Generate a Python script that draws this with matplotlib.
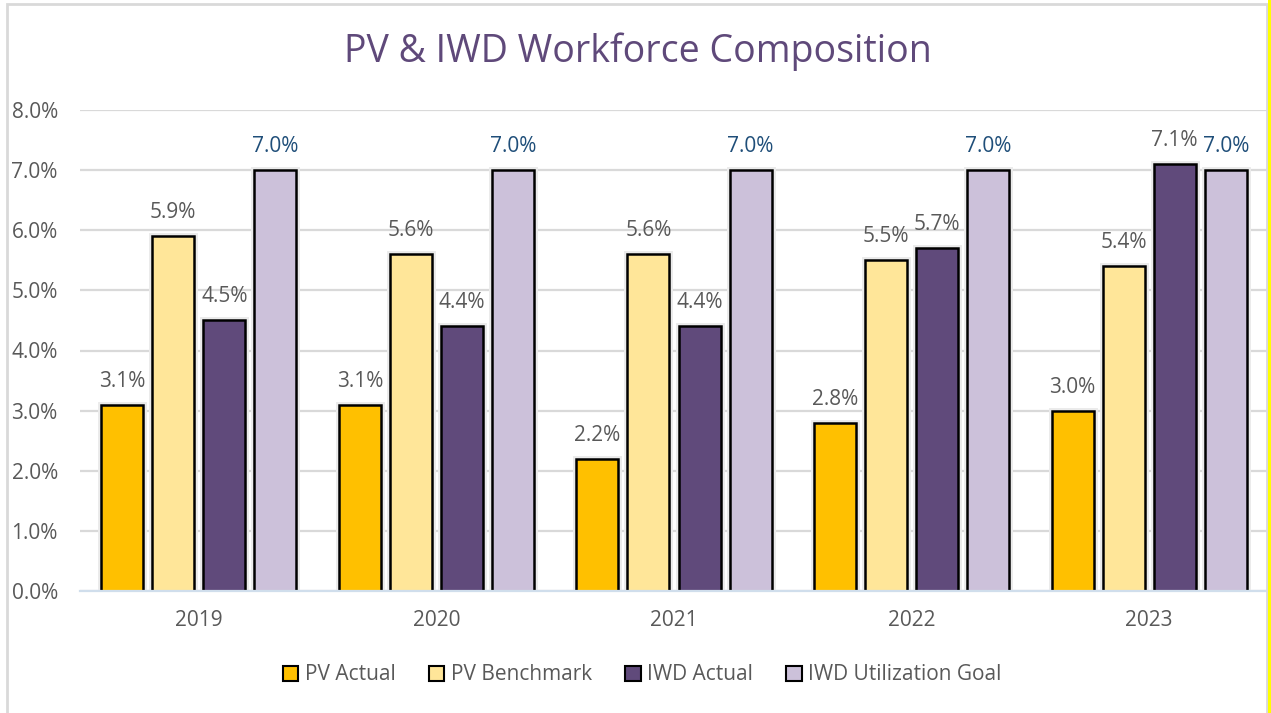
import matplotlib
matplotlib.use("Agg")
import matplotlib.pyplot as plt
import matplotlib.patheffects as pe
from matplotlib.patches import Rectangle
import numpy as np

# Data
years = ["2019", "2020", "2021", "2022", "2023"]
pv_actual = [3.1, 3.1, 2.2, 2.8, 3.0]
pv_benchmark = [5.9, 5.6, 5.6, 5.5, 5.4]
iwd_actual = [4.5, 4.4, 4.4, 5.7, 7.1]
iwd_goal = [7.0, 7.0, 7.0, 7.0, 7.0]
series_names = ["PV Actual", "PV Benchmark", "IWD Actual", "IWD Utilization Goal"]
y_ticks = [0, 1, 2, 3, 4, 5, 6, 7, 8]

colors = ["#FFC000", "#FFE699", "#604A7B", "#CCC1DA"]
label_colors = ["#595959", "#595959", "#595959", "#1F4E79"]
text_gray = "#595959"

plt.rcParams["font.family"] = ["Open Sans", "DejaVu Sans"]

W, H = 1271, 713
fig = plt.figure(figsize=(W / 100, H / 100), dpi=100)
fig.patch.set_facecolor("white")

# Chart frame (light gray border with yellow strip at right edge)
fig.patches.append(Rectangle((7 / W, -0.05), (1267 - 7) / W, (H - 4) / H + 0.05,
                             transform=fig.transFigure, fill=False,
                             edgecolor="#D9D9D9", linewidth=2, zorder=0))
fig.patches.append(Rectangle((1268 / W, 0), 4 / W, 1, transform=fig.transFigure,
                             facecolor="#FFFF00", edgecolor="none", zorder=0))

ax = fig.add_axes([80 / W, 1 - 591 / H, (1268 - 80) / W, (591 - 110) / H])
ax.set_facecolor("none")

x = np.arange(len(years))
width = 0.177
step = 0.215
all_series = [pv_actual, pv_benchmark, iwd_actual, iwd_goal]
glow = [pe.Stroke(linewidth=5, foreground="#EBEBEB"), pe.Normal()]

for i, vals in enumerate(all_series):
    offs = (i - 1.5) * step
    bars = ax.bar(x + offs, vals, width, color=colors[i], edgecolor="black",
                  linewidth=1.8, label=series_names[i], zorder=3)
    for b in bars:
        b.set_path_effects(glow)
    for xi, v in zip(x + offs, vals):
        ax.annotate(f"{v:.1f}%", (xi, v), xytext=(0, 13), textcoords="offset points",
                    ha="center", va="baseline", fontsize=15,
                    color=label_colors[i], zorder=4)

ax.set_xlim(-0.5, len(years) - 0.5)
ax.set_ylim(0, 8)
ax.set_yticks(y_ticks)
ax.set_yticklabels([f"{t:.1f}%" for t in y_ticks])
ax.set_xticks(x)
ax.set_xticklabels(years)
ax.tick_params(axis="both", length=0, labelsize=15, colors=text_gray)
ax.tick_params(axis="y", pad=16)
ax.tick_params(axis="x", pad=14)

ax.grid(axis="y", color="#D9D9D9", linewidth=1.6, zorder=0)
ax.set_axisbelow(True)
for s in ["top", "right", "left"]:
    ax.spines[s].set_visible(False)
ax.spines["bottom"].set_color("#D0DEEC")
ax.spines["bottom"].set_linewidth(1.6)
ax.spines["bottom"].set_zorder(5)

fig.text(638 / W, 1 - 52 / H, "PV & IWD Workforce Composition", ha="center",
         va="center", fontsize=27, color="#5F497A")

handles, labels = ax.get_legend_handles_labels()
leg = fig.legend(handles, labels, loc="center", bbox_to_anchor=(642 / W, 1 - 675 / H),
                 ncol=4, frameon=False, fontsize=15, handlelength=0.75,
                 handleheight=0.75, handletextpad=0.3, columnspacing=1.6)
for t in leg.get_texts():
    t.set_color(text_gray)
for h in leg.legend_handles:
    h.set_path_effects([])
    h.set_linewidth(1.5)

fig.savefig("out.png", dpi=100)
